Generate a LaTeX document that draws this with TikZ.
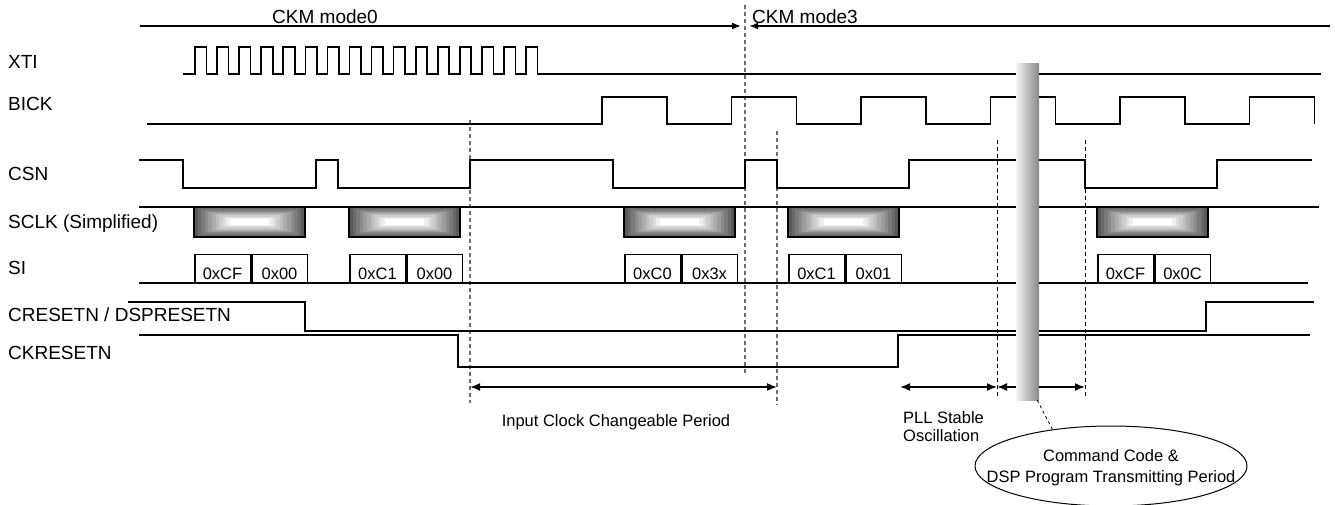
\documentclass[tikz,border=0pt]{standalone}
\usepackage{fontspec}
\setmainfont{Liberation Sans}
\usetikzlibrary{arrows.meta,positioning,shapes.geometric}
\definecolor{dashgray}{HTML}{6E6E6E}
\definecolor{barlight}{HTML}{F4F4F4}
\definecolor{bardark}{HTML}{888888}
\tikzset{
  siglabel/.style={anchor=base west,inner sep=0pt,font=\fontsize{19}{23}\selectfont},
  modetext/.style={inner sep=0pt,font=\fontsize{19}{23}\selectfont},
  bodytext/.style={inner sep=0pt,font=\fontsize{16.5}{18}\selectfont},
  sigline/.style={line width=1.7pt,draw=black},
  hexcell/.style={
    draw=black,
    line width=1.5pt,
    minimum width=55.5pt,
    minimum height=28pt,
    inner sep=0pt,
    text height=22pt,
    text depth=0pt,
    font=\fontsize{16.5}{18}\selectfont
  },
  markline/.style={draw=dashgray,line width=1.3pt,dash pattern=on 4pt off 3pt},
  finemark/.style={draw=black,line width=1pt,dash pattern=on 4pt off 3pt},
  modearrow/.style={-{Latex[length=9pt,width=7pt]},line width=1.7pt},
  spanarrow/.style={{Latex[length=10pt,width=8pt]}-{Latex[length=10pt,width=8pt]},line width=1.7pt},
  gapbar/.style={rectangle,inner sep=0pt,minimum width=23pt,minimum height=336pt,left color=barlight,right color=bardark},
  notebubble/.style={ellipse,draw=black,line width=1pt,minimum width=272pt,minimum height=80pt},
  notelink/.style={draw=black,line width=0.8pt,dash pattern=on 3pt off 3pt}
}
% shaded SCLK burst, #1 left x, #2 right x
\newcommand{\sclkbox}[2]{%
  \foreach \k in {0,...,10}{
    \pgfmathsetmacro{\shd}{65-6.5*\k}
    \fill[black!\shd] ({#1+3.6*\k},{207+1.2*\k}) rectangle ({#2-3.6*\k},{237-1.2*\k});
  }
  \draw[sigline] (#1,207) rectangle (#2,237);
}

\begin{document}
\begin{tikzpicture}[x=1pt,y=-1pt]
  \useasboundingbox (0,0) rectangle (1335,505);

  % signal names
  \node[siglabel] (xti)     at (8,69)  {XTI};
  \node[siglabel] (bick)    at (8,111) {BICK};
  \node[siglabel] (csn)     at (8,181) {CSN};
  \node[siglabel] (sclk)    at (8,229) {SCLK (Simplified)};
  \node[siglabel] (si)      at (8,274) {SI};
  \node[siglabel] (creset)  at (8,321) {CRESETN / DSPRESETN};
  \node[siglabel] (ckreset) at (8,359) {CKRESETN};

  % clock mode
  \coordinate (mode0start) at (140,26);
  \coordinate (mode0end)   at (741,26);
  \coordinate (mode3start) at (1330,26);
  \coordinate (mode3end)   at (749,26);
  \draw[modearrow] (mode0start) -- (mode0end);
  \draw[modearrow] (mode3start) -- (mode3end);
  \node[modetext, anchor=base]      (mode0) at (325,24) {CKM mode0};
  \node[modetext, anchor=base west] (mode3) at (752,24) {CKM mode3};

  % time marks
  \coordinate (m1t) at (470,120);  \coordinate (m1b) at (470,403);
  \coordinate (m2t) at (745,5);    \coordinate (m2b) at (745,375);
  \coordinate (m3t) at (777,131);  \coordinate (m3b) at (777,405);
  \coordinate (m4t) at (997,140);  \coordinate (m4b) at (997,397);
  \coordinate (m5t) at (1085,140); \coordinate (m5b) at (1085,397);
  \draw[markline] (m1t) -- (m1b);
  \draw[markline] (m2t) -- (m2b);
  \draw[markline] (m3t) -- (m3b);
  \draw[finemark] (m4t) -- (m4b);
  \draw[finemark] (m5t) -- (m5b);

  % XTI
  \draw[sigline] (183,74)
    \foreach \k in {0,...,15}{
      -- ({195+22.07*\k},74) -- ({195+22.07*\k},47) -- ({206.5+22.07*\k},47) -- ({206.5+22.07*\k},74)
    } -- (1321,74);

  % BICK
  \draw[sigline] (147,124)
    \foreach \k in {0,...,5}{
      -- ({602+129.5*\k},124) -- ({602+129.5*\k},97) -- ({667+129.5*\k},97) -- ({667+129.5*\k},124)
    };
  \draw[sigline, line width=2.6pt] (537,124) -- (562,124);

  % CSN
  \draw[sigline] (139,160) -- (183,160) -- (183,188) -- (316,188) -- (316,160) -- (338,160)
    -- (338,188) -- (470,188) -- (470,160) -- (613,160) -- (613,188) -- (745,188)
    -- (745,160) -- (777,160) -- (777,188) -- (909,188) -- (909,160) -- (1085,160)
    -- (1085,188) -- (1217,188) -- (1217,160) -- (1312,160);

  % SCLK and SI
  \draw[sigline] (139,207) -- (1319,207);
  \draw[sigline] (139,283) -- (1308,283);
  \foreach \x/\a/\b [count=\n] in {194/0xCF/0x00, 349/0xC1/0x00, 624/0xC0/0x3x, 788/0xC1/0x01, 1097/0xCF/0x0C}{
    \sclkbox{\x}{\x+111}
    \node[hexcell, anchor=south west] (si\n-a) at (\x,283) {\a};
    \node[hexcell, right=0pt of si\n-a] (si\n-b) {\b};
  }

  % resets
  \draw[sigline] (128,302) -- (305,302) -- (305,331) -- (1206,331) -- (1206,302) -- (1314,302);
  \draw[sigline] (139,335) -- (458,335) -- (458,367) -- (898,367) -- (898,335) -- (1310,335);

  % periods
  \coordinate (spany) at (0,387);
  \coordinate (pllstart) at (900,387);
  \draw[spanarrow] (m1t |- spany) -- (m3t |- spany);
  \draw[spanarrow] (pllstart) -- (m4t |- spany);
  \draw[spanarrow] (m4t |- spany) -- (m5t |- spany);
  \node[bodytext, anchor=base] (icp) at (616,426) {Input Clock Changeable Period};
  \node[bodytext, anchor=north west, align=left] (pll) at (903,411) {PLL Stable\\Oscillation};

  % break in time axis
  \node[gapbar] (gap) at (1027.5,232) {};

  % note
  \node[notebubble] (cmd) at (1111,466) {};
  \node[bodytext, align=center, font=\fontsize{16.5}{21}\selectfont] (cmdtext) at ([yshift=-2pt]cmd.center)
    {Command Code \&\\DSP Program Transmitting Period};
  \draw[notelink] ([xshift=-2pt]gap.south east) -- (cmd.148);
\end{tikzpicture}
\end{document}
